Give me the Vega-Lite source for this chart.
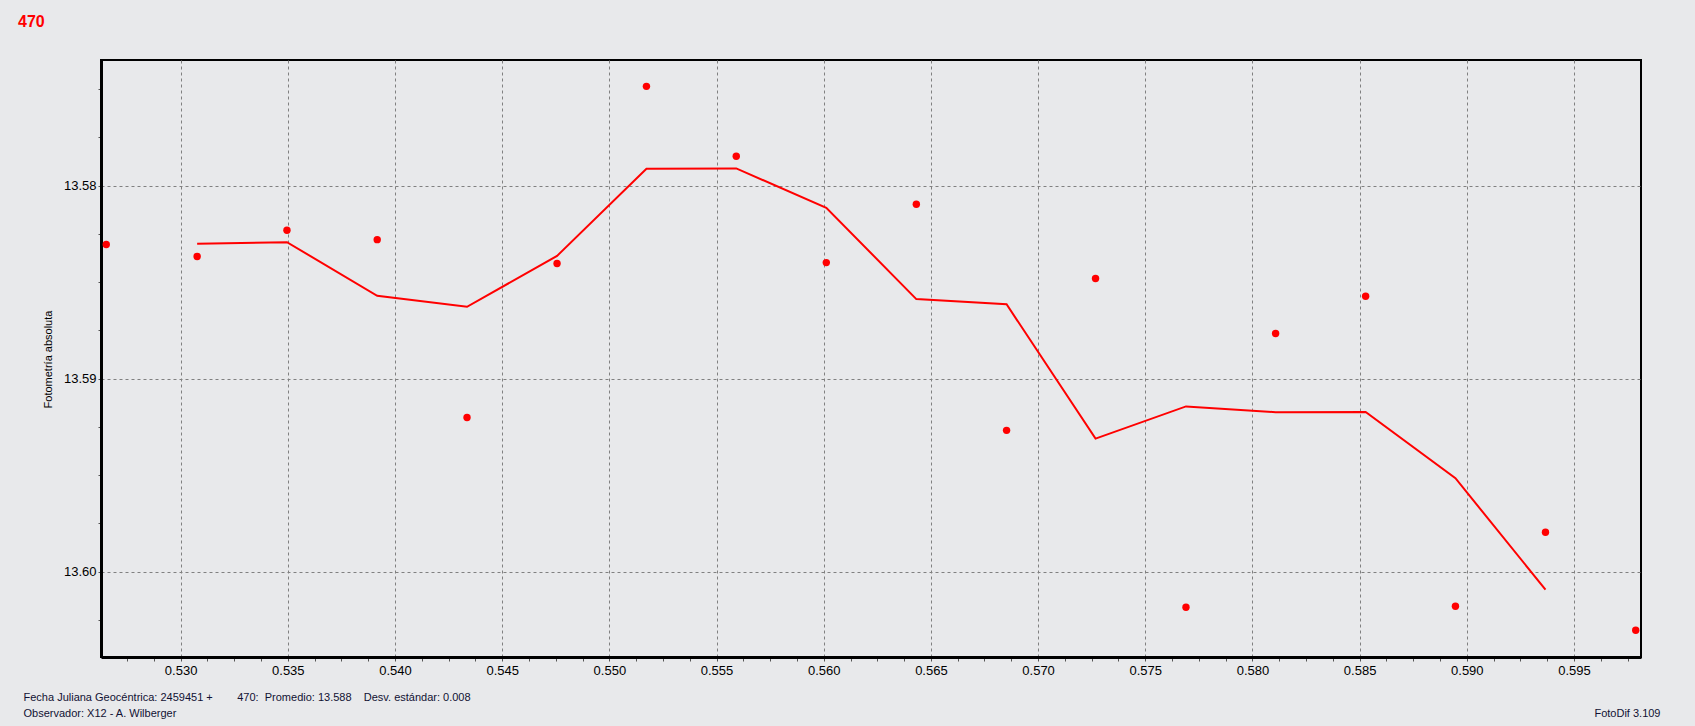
{
  "$schema": "https://vega.github.io/schema/vega-lite/v6.json",
  "width": 1540,
  "height": 597,
  "autosize": {"type": "none"},
  "padding": {"left": 101, "top": 60, "right": 54, "bottom": 69},
  "background": "#e8e9eb",
  "title": {
    "text": "470",
    "color": "#ff0000",
    "fontSize": 16,
    "fontWeight": "bold",
    "font": "Liberation Sans",
    "anchor": "start",
    "frame": "group",
    "baseline": "alphabetic",
    "offset": 17,
    "dx": -83
  },
  "datasets": {
    "points": [
      {"jd": 0.52653, "mag": 13.58305},
      {"jd": 0.53077, "mag": 13.58367},
      {"jd": 0.53496, "mag": 13.58231},
      {"jd": 0.53917, "mag": 13.58280},
      {"jd": 0.54336, "mag": 13.59201},
      {"jd": 0.54756, "mag": 13.58404},
      {"jd": 0.55173, "mag": 13.57486},
      {"jd": 0.55592, "mag": 13.57848},
      {"jd": 0.56012, "mag": 13.58399},
      {"jd": 0.56432, "mag": 13.58097},
      {"jd": 0.56853, "mag": 13.59268},
      {"jd": 0.57268, "mag": 13.58481},
      {"jd": 0.57690, "mag": 13.60184},
      {"jd": 0.58108, "mag": 13.58766},
      {"jd": 0.58528, "mag": 13.58573},
      {"jd": 0.58947, "mag": 13.60179},
      {"jd": 0.59367, "mag": 13.59796},
      {"jd": 0.59788, "mag": 13.60303}
    ],
    "avg": [
      {"jd": 0.53077, "mag": 13.58301},
      {"jd": 0.53496, "mag": 13.58293},
      {"jd": 0.53917, "mag": 13.58571},
      {"jd": 0.54336, "mag": 13.58628},
      {"jd": 0.54756, "mag": 13.58364},
      {"jd": 0.55173, "mag": 13.57913},
      {"jd": 0.55592, "mag": 13.57911},
      {"jd": 0.56012, "mag": 13.58115},
      {"jd": 0.56432, "mag": 13.58588},
      {"jd": 0.56853, "mag": 13.58615},
      {"jd": 0.57268, "mag": 13.59311},
      {"jd": 0.57690, "mag": 13.59144},
      {"jd": 0.58108, "mag": 13.59174},
      {"jd": 0.58528, "mag": 13.59173},
      {"jd": 0.58947, "mag": 13.59516},
      {"jd": 0.59367, "mag": 13.60093}
    ]
  },
  "encoding": {
    "x": {
      "field": "jd",
      "type": "quantitative",
      "scale": {"domain": [0.526285, 0.598126], "nice": false, "zero": false},
      "axis": {
        "values": [0.5275, 0.52875, 0.53, 0.53125, 0.5325, 0.53375, 0.535, 0.53625, 0.5375, 0.53875, 0.54, 0.54125, 0.5425, 0.54375, 0.545, 0.54625, 0.5475, 0.54875, 0.55, 0.55125, 0.5525, 0.55375, 0.555, 0.55625, 0.5575, 0.55875, 0.56, 0.56125, 0.5625, 0.56375, 0.565, 0.56625, 0.5675, 0.56875, 0.57, 0.57125, 0.5725, 0.57375, 0.575, 0.57625, 0.5775, 0.57875, 0.58, 0.58125, 0.5825, 0.58375, 0.585, 0.58625, 0.5875, 0.58875, 0.59, 0.59125, 0.5925, 0.59375, 0.595, 0.59625, 0.5975],
        "labelExpr": "abs(datum.value*200 - round(datum.value*200)) < 0.01 ? format(datum.value, '.3f') : ''",
        "labelFont": "Liberation Sans",
        "labelFontSize": 13,
        "labelColor": "#000000",
        "labelPadding": 3,
        "labelOverlap": false,
        "labelFlush": false,
        "tickSize": 4,
        "tickColor": "#555555",
        "tickWidth": 1,
        "domainColor": "#000000",
        "domainWidth": 3,
        "grid": true,
        "gridColor": "#808080",
        "gridDash": [3, 3],
        "gridWidth": 1,
        "gridOpacity": {"condition": {"test": "abs(datum.value*200 - round(datum.value*200)) < 0.01", "value": 1}, "value": 0},
        "title": ["Fecha Juliana Geocéntrica: 2459451 +\u00a0\u00a0\u00a0\u00a0\u00a0\u00a0\u00a0 470:\u00a0 Promedio: 13.588\u00a0\u00a0\u00a0 Desv. estándar: 0.008", "Observador: X12 - A. Wilberger"],
        "titleFont": "Liberation Sans",
        "titleFontSize": 11,
        "titleFontWeight": "normal",
        "titleColor": "#111133",
        "titleAlign": "left",
        "titleAnchor": "start",
        "titleBaseline": "top",
        "titleLineHeight": 16,
        "titleX": -78,
        "titleY": 34
      }
    }
  },
  "layer": [
    {
      "data": {"name": "points"},
      "mark": {"type": "circle", "color": "#ff0000", "size": 55, "opacity": 1},
      "encoding": {
        "y": {
          "field": "mag",
          "type": "quantitative",
          "scale": {"domain": [13.573494, 13.60442], "nice": false, "zero": false, "reverse": true},
          "axis": {
            "orient": "left",
            "values": [13.575, 13.5775, 13.58, 13.5825, 13.585, 13.5875, 13.59, 13.5925, 13.595, 13.5975, 13.6, 13.6025],
            "labelExpr": "abs(datum.value*100 - round(datum.value*100)) < 0.01 ? format(datum.value, '.2f') : ''",
            "labelFont": "Liberation Sans",
            "labelFontSize": 13,
            "labelColor": "#000000",
            "labelPadding": 2,
            "labelOverlap": false,
            "labelFlush": false,
            "tickSize": 3,
            "tickColor": "#555555",
            "domainColor": "#000000",
            "domainWidth": 3,
            "grid": true,
            "gridColor": "#808080",
            "gridDash": [3, 3],
            "gridWidth": 1,
            "gridOpacity": {"condition": {"test": "abs(datum.value*100 - round(datum.value*100)) < 0.01", "value": 1}, "value": 0},
            "title": "Fotometría absoluta",
            "titleFont": "Liberation Sans",
            "titleFontSize": 11,
            "titleFontWeight": "normal",
            "titleColor": "#000000",
            "titleAngle": -90,
            "titleAlign": "center",
            "titleBaseline": "middle",
            "titleX": -53,
            "titleY": 299
          }
        }
      }
    },
    {
      "data": {"name": "avg"},
      "mark": {"type": "line", "color": "#ff0000", "strokeWidth": 2},
      "encoding": {
        "y": {
          "field": "mag",
          "type": "quantitative",
          "scale": {"domain": [13.573494, 13.60442], "nice": false, "zero": false, "reverse": true},
          "axis": null
        }
      }
    },
    {
      "data": {"name": "points"},
      "mark": {"type": "point", "opacity": 0},
      "encoding": {
        "y": {
          "field": "mag",
          "type": "quantitative",
          "scale": {"domain": [13.573494, 13.60442], "nice": false, "zero": false, "reverse": true},
          "axis": {
            "orient": "right",
            "domain": false,
            "ticks": false,
            "labels": false,
            "grid": false,
            "title": "FotoDif 3.109",
            "titleFont": "Liberation Sans",
            "titleFontSize": 11,
            "titleFontWeight": "normal",
            "titleColor": "#111133",
            "titleAngle": 0,
            "titleAlign": "right",
            "titleBaseline": "middle",
            "titleX": 19,
            "titleY": 653
          }
        }
      }
    }
  ],
  "resolve": {"axis": {"y": "independent"}},
  "config": {
    "font": "Liberation Sans",
    "view": {"stroke": "#000000", "strokeWidth": 2, "fill": "#e8e9eb"}
  }
}
